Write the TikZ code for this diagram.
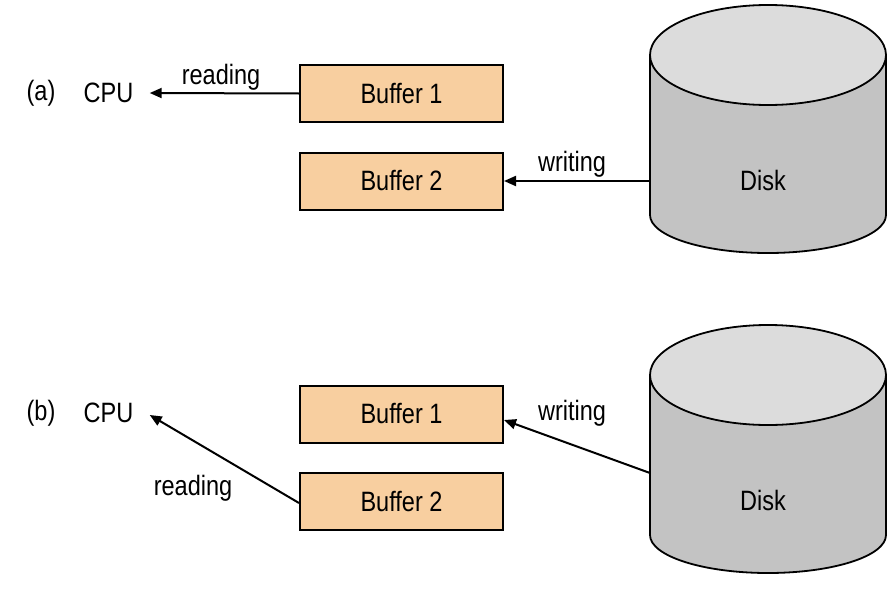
\documentclass[tikz,border=0pt]{standalone}
\usepackage{fontspec}
\newfontfamily\lab[FakeStretch=0.84]{Liberation Sans}
\usetikzlibrary{arrows.meta}
\definecolor{buf}{HTML}{F8CFA0}
\definecolor{disktop}{HTML}{DCDCDC}
\definecolor{diskside}{HTML}{C3C3C3}
\tikzset{
  bufbox/.style={draw=black, line width=1pt, fill=buf, minimum width=101.5pt, minimum height=28.5pt, inner sep=0pt, font=\lab\fontsize{14}{16}\selectfont},
  txt/.style={inner sep=0pt, font=\lab\fontsize{14}{16}\selectfont},
  cpubox/.style={inner ysep=0pt, inner xsep=8pt, font=\lab\fontsize{14}{16}\selectfont},
  conn/.style={line width=1pt, -{Triangle[length=6pt,width=5pt]}},
  rim/.style={draw=black, line width=0.9pt}
}
\begin{document}
\begin{tikzpicture}[x=0.5pt, y=-0.5pt]
\useasboundingbox (0,0) rectangle (889,594);
% ---------- (a) ----------
\node[txt] (la) at (41,93) {(a)};
\node[cpubox] (cpua) at (108.5,93) {CPU};
\node[bufbox] (b1a) at (401.5,93.5) {Buffer 1};
\node[bufbox] (b2a) at (401.5,181) {Buffer 2};
% disk (a)
\fill[diskside] (650,55) -- (650,215) arc[start angle=180, end angle=0, x radius=118, y radius=38] -- (886,55) -- cycle;
\draw[rim] (650,55) -- (650,215) arc[start angle=180, end angle=0, x radius=118, y radius=38] -- (886,55);
\draw[rim, fill=disktop] (768,55) ellipse[x radius=118, y radius=50];
\node[txt] (diska) at (763,180) {Disk};
\coordinate (da) at (650,181);
\draw[conn] (b1a.west) -- (cpua.east);
\node[txt] (ra) at (221,77) {reading};
\draw[conn] (da) -- (b2a.east);
\node[txt] (wa) at (572,164) {writing};
% ---------- (b) ----------
\node[txt] (lb) at (41,413) {(b)};
\node[cpubox] (cpub) at (108.5,413) {CPU};
\node[bufbox] (b1b) at (401.5,414) {Buffer 1};
\node[bufbox] (b2b) at (401.5,501.5) {Buffer 2};
% disk (b)
\fill[diskside] (650,375) -- (650,535) arc[start angle=180, end angle=0, x radius=118, y radius=38] -- (886,375) -- cycle;
\draw[rim] (650,375) -- (650,535) arc[start angle=180, end angle=0, x radius=118, y radius=38] -- (886,375);
\draw[rim, fill=disktop] (768,375) ellipse[x radius=118, y radius=50];
\node[txt] (diskb) at (763,500) {Disk};
\coordinate (db) at (650,473);
\draw[conn] ([yshift=-0.75pt]b2b.west) -- ([yshift=-1pt]cpub.east);
\node[txt] (rb) at (193,488) {reading};
\draw[conn] (db) -- ([yshift=-3pt]b1b.east);
\node[txt] (wb) at (572,413) {writing};
\end{tikzpicture}
\end{document}
